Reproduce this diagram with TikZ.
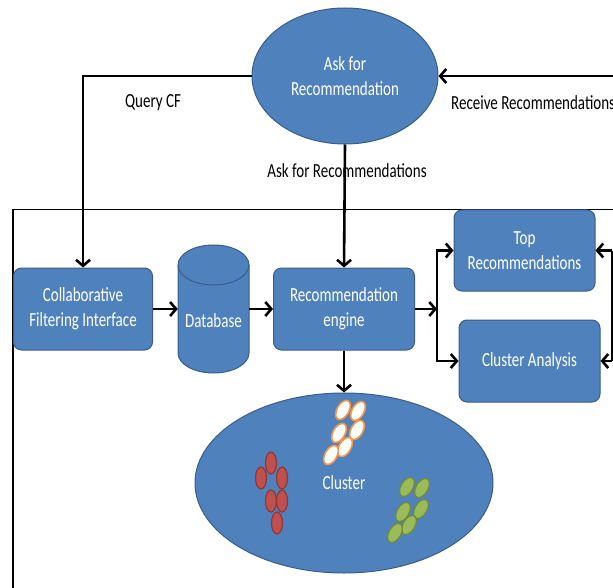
\documentclass[tikz,border=0pt]{standalone}
\usepackage{fontspec}
\setmainfont{Carlito}[FakeStretch=0.75]
\usetikzlibrary{shapes.geometric,arrows.meta}
\definecolor{boxblue}{HTML}{4F81BD}
\definecolor{boxline}{HTML}{385D8A}
\definecolor{seedred}{HTML}{C0504D}
\definecolor{seedredline}{HTML}{8C3836}
\definecolor{seedgreen}{HTML}{9BBB59}
\definecolor{seedgreenline}{HTML}{71893F}
\definecolor{seedorange}{HTML}{F79646}
\begin{document}
\begin{tikzpicture}[x=1pt,y=-1pt,
		box/.style={draw=boxline,fill=boxblue,line width=1pt,rounded corners=8pt,text=white,align=center,
			minimum width=141pt,minimum height=82pt,inner sep=2pt,font=\fontsize{20}{25}\selectfont},
		blob/.style={draw=boxline,fill=boxblue,line width=1pt,ellipse,text=white,align=center,inner sep=0pt,
			font=\fontsize{20}{25}\selectfont},
		lbl/.style={font=\fontsize{20}{25}\selectfont,inner sep=0pt},
		flow/.style={-{Straight Barb[length=6pt,width=14pt]},line width=2.6pt}]
	\useasboundingbox (0,0) rectangle (613,588);

	% FRAME
	\draw[line width=1.6pt] (13,600) -- (13,209.5) -- (620,209.5);

	% NODES
	\node[blob,minimum width=186pt,minimum height=136pt] (ask) at (345,76) {Ask for\\Recommendation};
	\node[box,minimum width=139pt] (cf) at (83,309) {Collaborative\\Filtering Interface};
	\node[box,minimum height=81pt] (top) at (524.5,250.5) {Top\\Recommendations};
	\node[box] (engine) at (344,309) {Recommendation\\engine};
	\node[box] (ana) at (529.5,361) {Cluster Analysis};
	\node[blob,minimum width=298pt,minimum height=180pt] (clus) at (344,483) {Cluster};

	% DATABASE
	\node[minimum width=71pt,minimum height=128pt,inner sep=0pt] (db) at (213.5,309) {};
	\draw[draw=boxline,fill=boxblue,line width=1pt] (178,265) -- (178,353)
		arc[start angle=180,end angle=0,x radius=35.5,y radius=20] -- (249,265)
		arc[start angle=0,end angle=-180,x radius=35.5,y radius=20] -- cycle;
	\draw[draw=boxline,line width=1pt] (178,265) arc[start angle=180,end angle=0,x radius=35.5,y radius=20];
	\node[lbl,text=white] (dbname) at (213.5,321) {Database};

	% SEEDS
	\foreach \p in {(271,463),(261,478),(282,478),(271,501),(282,501),(277,523)} {
		\draw[fill=seedred,draw=seedredline,line width=1.2pt] \p ellipse (5.5 and 11);
	}
	\foreach \p in {(407,487),(422,488),(403,512),(421,509),(409,525),(395,533)} {
		\draw[fill=seedgreen,draw=seedgreenline,line width=1.2pt,rotate around={-30:\p}] \p ellipse (6 and 10.5);
	}
	\foreach \p in {(343,410),(358,411),(339,433),(357,430),(345,447),(331,455)} {
		\draw[fill=white,draw=seedorange,line width=1.6pt,rotate around={-30:\p}] \p ellipse (6 and 10.5);
	}

	% LABELS
	\node[lbl] (qcf) at (153,103) {Query CF};
	\node[lbl,anchor=west] (recv) at (451,103) {Receive Recommendations};
	\node[lbl] (askrec) at (347,171) {Ask for Recommendations};

	% CONNECTORS
	\coordinate (inright) at (625,76);
	\coordinate (split) at (437,309);
	\coordinate (backtop) at (612,250.5);
	\coordinate (backana) at (612,361);
	\draw[flow] (ask.west) -| (cf.north);
	\draw[flow] (inright) -- (ask.east);
	\draw[flow] (ask.south) -- (engine.north);
	\draw[flow] (cf.east) -- (db.west);
	\draw[flow] (db.east) -- (engine.west);
	\draw[flow] (engine.east) -- (split);
	\draw[flow] (split) |- (top.west);
	\draw[flow] (split) |- (ana.west);
	\draw[line width=2pt] (backtop) -- (backana);
	\draw[flow] (backtop) -- (top.east);
	\draw[flow] (backana) -- (ana.east);
	\draw[flow] (engine.south) -- (clus.north);
\end{tikzpicture}
\end{document}
